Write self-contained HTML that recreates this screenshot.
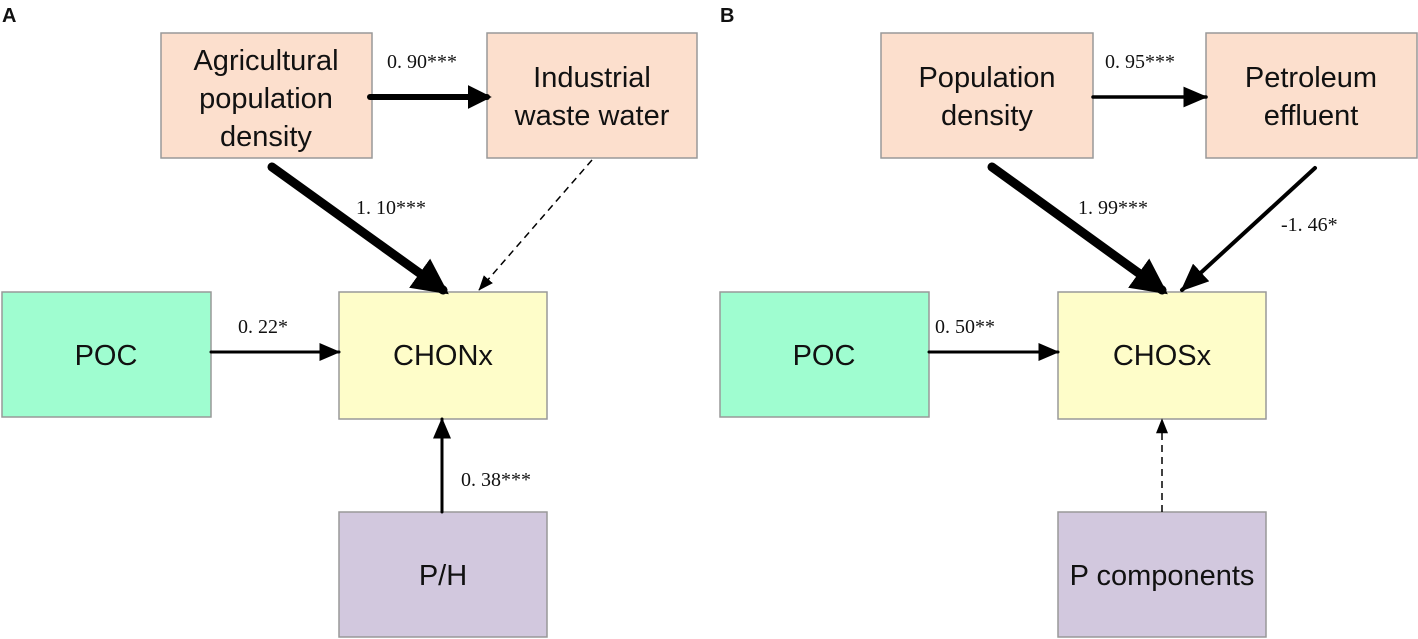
<!DOCTYPE html>
<html><head><meta charset="utf-8"><style>
body{margin:0;background:#fff;}
svg{display:block}
.b{font-family:"Liberation Sans",sans-serif;font-size:29px;fill:#111;text-anchor:middle}
.l{font-family:"Liberation Serif",serif;font-size:20px;fill:#111}
.h{font-family:"Liberation Sans",sans-serif;font-size:20px;font-weight:bold;fill:#111}
</style></head><body>
<svg width="1418" height="639" viewBox="0 0 1418 639">
<defs>
<marker id="m" markerWidth="4" markerHeight="4" refX="3.2" refY="2" orient="auto" markerUnits="strokeWidth"><path d="M0,0 L4,2 L0,4 z" fill="#000"/></marker>
<marker id="m2" markerWidth="7" markerHeight="6" refX="6.5" refY="3" orient="auto" markerUnits="strokeWidth"><path d="M0,0 L7,3 L0,6 z" fill="#000"/></marker>
<marker id="m3" markerWidth="10" markerHeight="8" refX="9.5" refY="4" orient="auto" markerUnits="strokeWidth"><path d="M0,0 L10,4 L0,8 z" fill="#000"/></marker>
</defs>
<text class="h" x="2" y="22">A</text>
<text class="h" x="720" y="22">B</text>
<g stroke="#999" stroke-width="1.5">
<rect x="161" y="33" width="211" height="125" fill="#fcdfcd"/>
<rect x="487" y="33" width="210" height="125" fill="#fcdfcd"/>
<rect x="2" y="292" width="209" height="125" fill="#9ffdd0"/>
<rect x="339" y="292" width="208" height="127" fill="#fefdc9"/>
<rect x="339" y="512" width="208" height="125" fill="#d2c8de"/>
<rect x="881" y="33" width="212" height="125" fill="#fcdfcd"/>
<rect x="1206" y="33" width="211" height="125" fill="#fcdfcd"/>
<rect x="720" y="292" width="209" height="125" fill="#9ffdd0"/>
<rect x="1058" y="292" width="208" height="127" fill="#fefdc9"/>
<rect x="1058" y="512" width="208" height="125" fill="#d2c8de"/>
</g>
<text class="b" x="266" y="70">Agricultural</text>
<text class="b" x="266" y="108">population</text>
<text class="b" x="266" y="146">density</text>
<text class="b" x="592" y="87">Industrial</text>
<text class="b" x="592" y="125">waste water</text>
<text class="b" x="106" y="365">POC</text>
<text class="b" x="443" y="365">CHONx</text>
<text class="b" x="443" y="585">P/H</text>
<text class="b" x="987" y="87">Population</text>
<text class="b" x="987" y="125">density</text>
<text class="b" x="1311" y="87">Petroleum</text>
<text class="b" x="1311" y="125">effluent</text>
<text class="b" x="824" y="365">POC</text>
<text class="b" x="1162" y="365">CHOSx</text>
<text class="b" x="1162" y="585">P components</text>
<g stroke="#000" fill="none" stroke-linecap="round">
<line x1="370" y1="97" x2="487" y2="97" stroke-width="6" marker-end="url(#m)"/>
<line x1="272" y1="167" x2="443" y2="290" stroke-width="9" marker-end="url(#m)"/>
<line x1="592" y1="160" x2="479" y2="290" stroke-width="1.5" stroke-dasharray="7,5" stroke-linecap="butt" marker-end="url(#m3)"/>
<line x1="211" y1="352" x2="339" y2="352" stroke-width="3" marker-end="url(#m2)"/>
<line x1="442" y1="512" x2="442" y2="419" stroke-width="3" marker-end="url(#m2)"/>
<line x1="1093" y1="97" x2="1206" y2="97" stroke-width="3.5" marker-end="url(#m2)"/>
<line x1="992" y1="167" x2="1162" y2="290" stroke-width="9" marker-end="url(#m)"/>
<line x1="1315" y1="168" x2="1182" y2="290" stroke-width="4" marker-end="url(#m2)"/>
<line x1="929" y1="352" x2="1058" y2="352" stroke-width="3" marker-end="url(#m2)"/>
<line x1="1162" y1="512" x2="1162" y2="419" stroke-width="1.5" stroke-dasharray="7,5" stroke-linecap="butt" marker-end="url(#m3)"/>
</g>
<text class="l" x="387" y="68">0. 90***</text>
<text class="l" x="356" y="214">1. 10***</text>
<text class="l" x="238" y="333">0. 22*</text>
<text class="l" x="461" y="486">0. 38***</text>
<text class="l" x="1105" y="68">0. 95***</text>
<text class="l" x="1078" y="214">1. 99***</text>
<text class="l" x="1281" y="231">-1. 46*</text>
<text class="l" x="935" y="333">0. 50**</text>
</svg>
</body></html>
